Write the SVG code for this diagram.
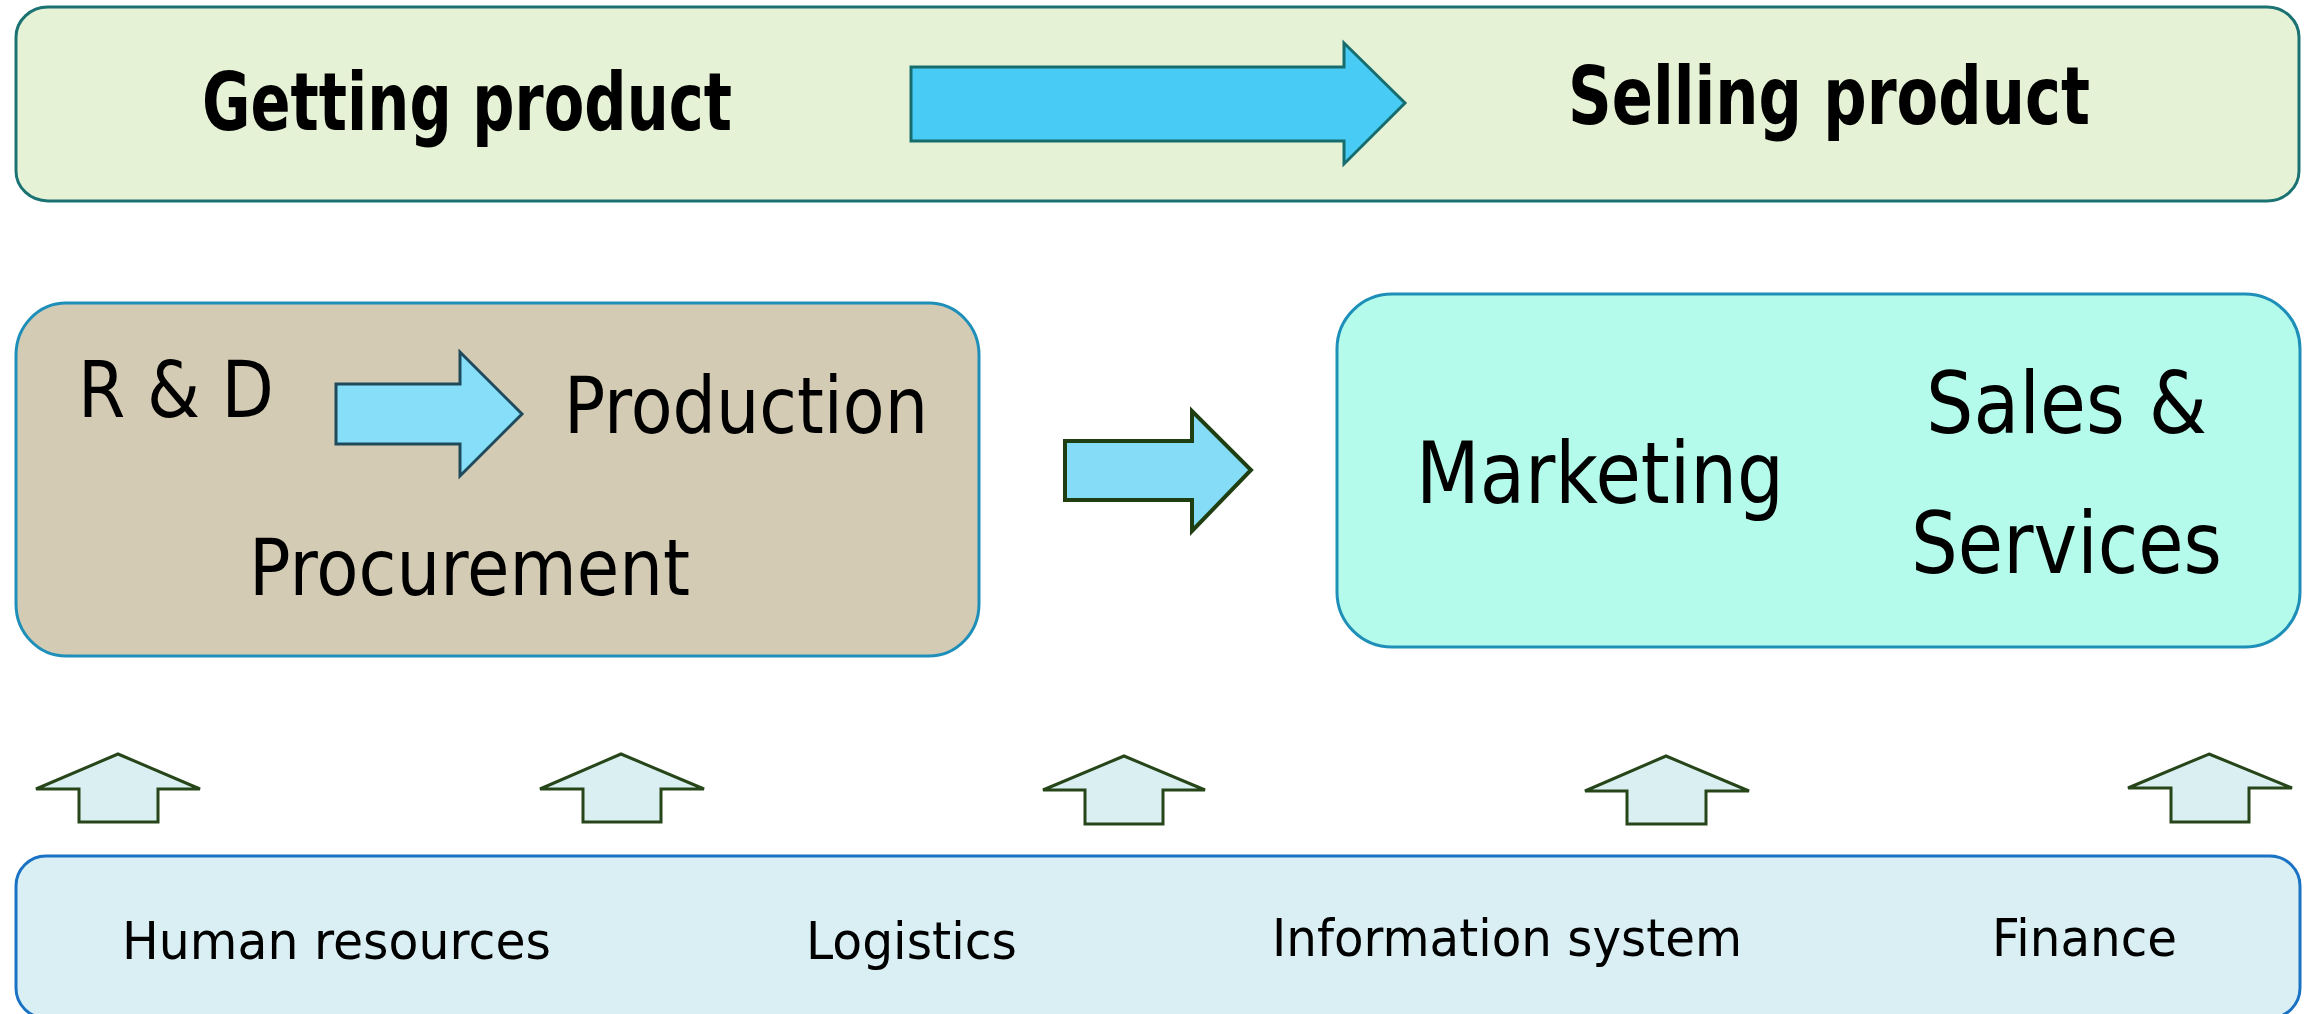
<svg xmlns="http://www.w3.org/2000/svg" width="2310" height="1014" viewBox="0 0 2310 1014">
  <defs>
    <style>
      .lbl { font-family: "DejaVu Sans", "Liberation Sans", sans-serif; fill: #000; }
      .title { font-weight: bold; font-size: 80px; }
      .mid { font-size: 78px; }
      .mid2 { font-size: 85px; }
      .low { font-size: 52px; }
      .up { fill: #daeff1; stroke: #26461a; stroke-width: 3; stroke-linejoin: miter; }
    </style>
  </defs>
  <rect width="2310" height="1014" fill="#ffffff"/>

  <!-- Top band: getting / selling product -->
  <g id="band-top">
    <rect x="16" y="7" width="2283" height="194" rx="32" ry="30" fill="#e6f2d5" stroke="#1b7272" stroke-width="3"/>
    <text class="lbl title" x="202" y="130" textLength="530" lengthAdjust="spacingAndGlyphs">Getting product</text>
    <text class="lbl title" x="1568" y="124" textLength="522" lengthAdjust="spacingAndGlyphs">Selling product</text>
  </g>

  <!-- Supply side block -->
  <g id="block-supply">
    <rect x="16" y="303" width="963" height="353" rx="50" ry="52" fill="#d4cbb5" stroke="#1e8fb8" stroke-width="3"/>
    <text class="lbl mid" x="78" y="417" textLength="196" lengthAdjust="spacingAndGlyphs">R &amp; D</text>
    <text class="lbl mid" x="564" y="433" textLength="364" lengthAdjust="spacingAndGlyphs">Production</text>
    <text class="lbl mid" x="249" y="595" textLength="441" lengthAdjust="spacingAndGlyphs">Procurement</text>
  </g>

  <!-- Demand side block -->
  <g id="block-demand">
    <rect x="1337" y="294" width="963" height="353" rx="55" ry="55" fill="#b5fbeb" stroke="#1e8fb8" stroke-width="3"/>
    <text class="lbl mid2" x="1416" y="503" textLength="368" lengthAdjust="spacingAndGlyphs">Marketing</text>
    <text class="lbl mid2" x="1926" y="433" textLength="281" lengthAdjust="spacingAndGlyphs">Sales &amp;</text>
    <text class="lbl mid2" x="1911" y="573" textLength="311" lengthAdjust="spacingAndGlyphs">Services</text>
  </g>

  <!-- Support functions band -->
  <g id="band-support">
    <rect x="16" y="856" width="2284" height="162" rx="30" ry="30" fill="#daeff3" stroke="#1a72c4" stroke-width="3"/>
    <text class="lbl low" x="122" y="959" textLength="429" lengthAdjust="spacingAndGlyphs">Human resources</text>
    <text class="lbl low" x="806" y="959" textLength="211" lengthAdjust="spacingAndGlyphs">Logistics</text>
    <text class="lbl low" x="1272" y="956" textLength="470" lengthAdjust="spacingAndGlyphs">Information system</text>
    <text class="lbl low" x="1992" y="956" textLength="185" lengthAdjust="spacingAndGlyphs">Finance</text>
  </g>

  <!-- Block arrows -->
  <g id="connectors">
    <polygon points="911,67 1344,67 1344,43 1405,103 1344,164 1344,141 911,141" fill="#48cbf5" stroke="#176d6d" stroke-width="3"/>
    <polygon points="336,384 460,384 460,352 522,414 460,476 460,444 336,444" fill="#87def8" stroke="#1f4a5c" stroke-width="3"/>
    <polygon points="1065,441 1192,441 1192,411 1251,470 1192,531 1192,500 1065,500" fill="#84dcf6" stroke="#1f3f12" stroke-width="4"/>

    <polygon class="up" points="118,754 200,789 158,789 158,822 79,822 79,789 36,789"/>
    <polygon class="up" points="621,754 704,789 661,789 661,822 583,822 583,789 540,789"/>
    <polygon class="up" points="1124,756 1205,790 1163,790 1163,824 1085,824 1085,790 1043,790"/>
    <polygon class="up" points="1666,756 1749,791 1706,791 1706,824 1627,824 1627,791 1585,791"/>
    <polygon class="up" points="2209,754 2292,788 2249,788 2249,822 2171,822 2171,788 2128,788"/>
  </g>
</svg>
